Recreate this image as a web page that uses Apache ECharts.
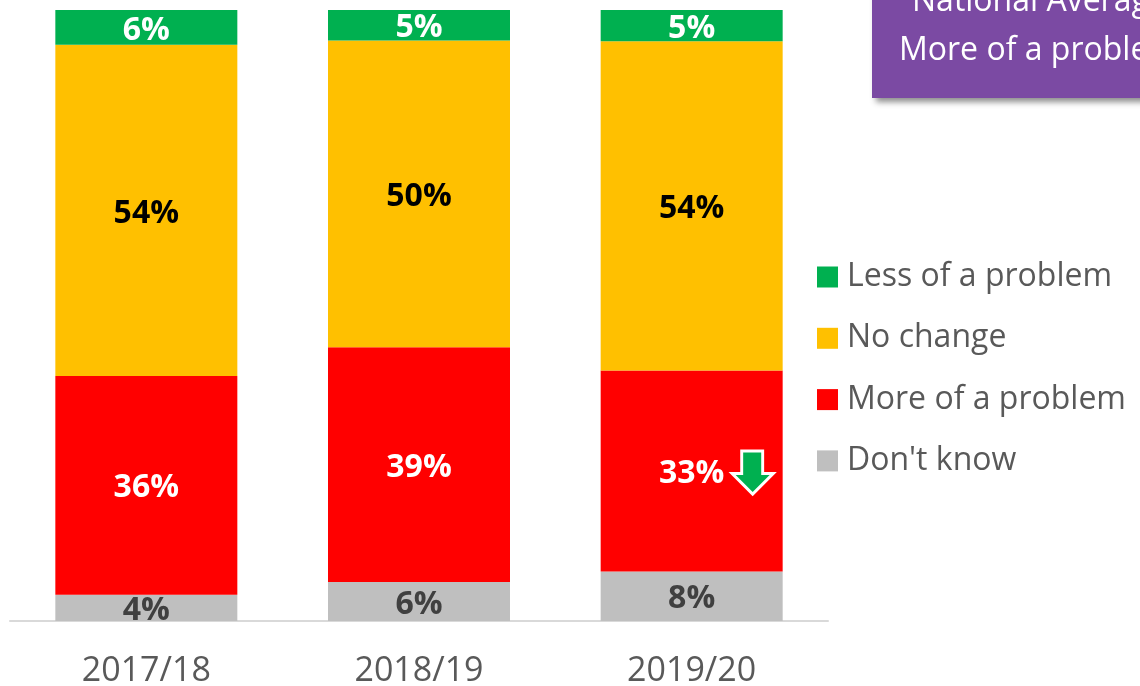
<!DOCTYPE html>
<html><head><meta charset="utf-8">
<style>html,body{margin:0;padding:0;background:#fff}#c{width:1140px;height:686px}</style>
<script src="https://cdn.jsdelivr.net/npm/echarts@6/dist/echarts.min.js"></script>
</head><body><div id="c"></div>
<script>
const categories = ['2017/18','2018/19','2019/20'];
const dontKnow = [4.3,6.4,8.1];
const more = [35.8,38.4,32.9];
const noChange = [54.2,50.2,53.9];
const less = [5.7,5.0,5.1];
const dontKnowLabels = ['4%','6%','8%'];
const moreLabels = ['36%','39%','33%'];
const noChangeLabels = ['54%','50%','54%'];
const lessLabels = ['6%','5%','5%'];
const font = '"Open Sans","Noto Sans",sans-serif';
const chart = echarts.init(document.getElementById('c'));
function s(name,data,labels,color,labelColor,extra){
  return Object.assign({name,type:'bar',stack:'a',data,barWidth:182,itemStyle:{color},
    label:{show:true,position:'inside',offset:[0,3],formatter:p=>labels[p.dataIndex],color:labelColor,fontFamily:font,fontWeight:'bold',fontSize:32}},extra||{});
}
const arrow = {
  silent:true,
  data:[{coord:['2019/20',24.3],symbol:'path://M10 0H32V23H43L21.5 44L0 23H10Z',symbolSize:[41,43],symbolOffset:[61,0],
    itemStyle:{color:'#00B050',borderColor:'#fff',borderWidth:3},label:{show:false}}]
};
chart.setOption({
  animation:false,
  grid:{left:10,top:10,width:818,height:611,containLabel:false,outerBoundsMode:'none'},
  xAxis:{type:'category',data:categories,axisTick:{show:false},
    axisLine:{lineStyle:{color:'#D9D9D9',width:2}},
    axisLabel:{color:'#595959',fontFamily:font,fontSize:34,margin:33}},
  yAxis:{type:'value',min:0,max:100,show:false},
  legend:{orient:'vertical',left:812,top:256,itemWidth:21,itemHeight:21,itemGap:29.3,icon:'rect',
    data:['Less of a problem','No change','More of a problem',"Don't know"],
    textStyle:{color:'#595959',fontFamily:font,fontSize:32,padding:[0,0,0,4]}},
  series:[s("Don't know",dontKnow,dontKnowLabels,'#BFBFBF','#404040'),
    s('More of a problem',more,moreLabels,'#FF0000','#fff',{markPoint:arrow}),
    s('No change',noChange,noChangeLabels,'#FFC000','#000'),
    s('Less of a problem',less,lessLabels,'#00B050','#fff')],
  graphic:[
    {type:'rect',left:872,top:-20,shape:{width:290,height:118},style:{fill:'#7B4AA3',shadowBlur:6,shadowColor:'rgba(0,0,0,.45)',shadowOffsetX:4,shadowOffsetY:4}},
    {type:'text',left:912,top:-14,style:{text:'National Average',fill:'#fff',font:'32px '+font}},
    {type:'text',left:899,top:35,style:{text:'More of a problem',fill:'#fff',font:'32px '+font}}
  ]
});
</script></body></html>
